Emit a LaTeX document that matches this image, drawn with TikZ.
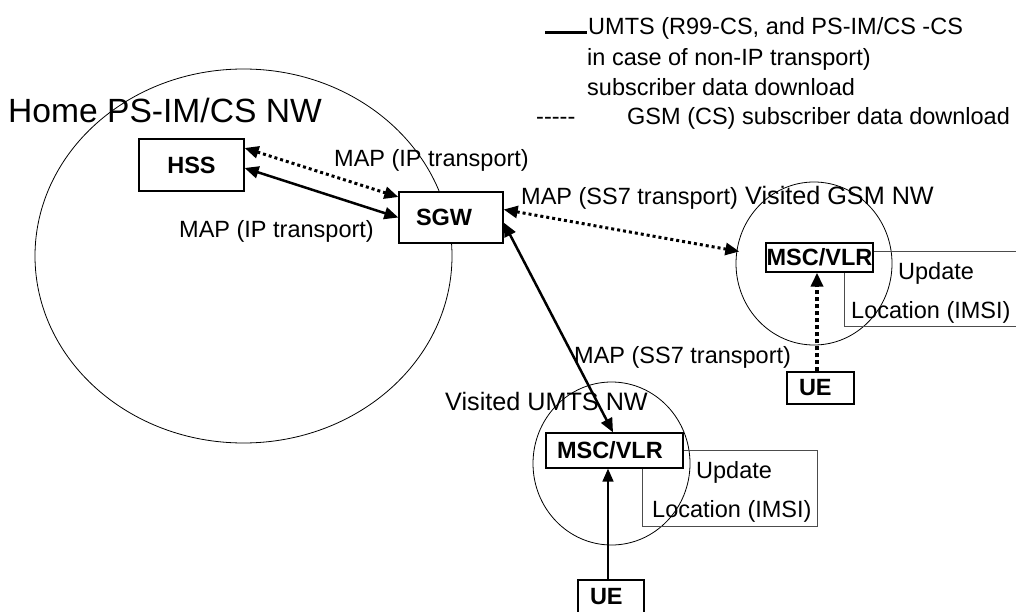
\documentclass[tikz,border=0pt]{standalone}
\usepackage{fontspec}
\setmainfont{Liberation Sans}
\usetikzlibrary{arrows.meta,shapes.geometric}
\begin{document}
\begin{tikzpicture}[x=1pt,y=-1pt,
  lbl/.style={anchor=base west, inner sep=0pt, font=\fontsize{23.5}{28}\selectfont},
  vislbl/.style={anchor=base west, inner sep=0pt, font=\fontsize{25.2}{30}\selectfont},
  biglbl/.style={anchor=base west, inner sep=0pt, font=\fontsize{33.6}{40}\selectfont},
  box/.style={draw, line width=1.3pt, fill=white, inner sep=0pt,
    font=\fontsize{23.5}{28}\selectfont\bfseries},
  net/.style={draw, ellipse, line width=0.8pt, inner sep=0pt},
  updbox/.style={draw=black!70, line width=1pt, inner sep=0pt},
  solidarr/.style={line width=2.5pt, {Triangle[length=14pt,width=12pt]}-{Triangle[length=14pt,width=12pt]}},
  dotarr/.style={line width=3pt, dash pattern=on 3pt off 3pt, {Triangle[length=14pt,width=12pt]}-{Triangle[length=14pt,width=12pt]}},
  dotone/.style={line width=3.5pt, dash pattern=on 4pt off 3pt, -{Triangle[length=14pt,width=12pt]}},
  thinone/.style={line width=1.6pt, -{Triangle[length=13pt,width=11pt]}}]
\useasboundingbox (0,0) rectangle (1016,612);
\fill[white] (0,0) rectangle (1016,612);
% networks
\node[net, minimum width=417pt, minimum height=374pt] (homenw) at (243.5,256) {};
\node[net, minimum width=156pt, minimum height=163pt] (gsmnw) at (814,263.5) {};
\node[net, minimum width=157pt, minimum height=163pt] (umtsnw) at (611.5,463.5) {};
% update location boxes
\node[updbox, minimum width=186pt, minimum height=75pt] (gupd) at (937,288.5) {};
\node[updbox, minimum width=175pt, minimum height=76pt] (uupd) at (729.5,488) {};
% labels
\node[biglbl] (homelbl) at (8,123) {Home PS-IM/CS NW};
\node[lbl] (mapip1) at (334,167) {MAP (IP transport)};
\node[lbl] (mapip2) at (179,237) {MAP (IP transport)};
\node[lbl] (mapss1) at (521,205) {MAP (SS7 transport)};
\node[vislbl] (visgsm) at (745,205) {Visited GSM NW};
\node[lbl] (mapss2) at (574,363) {MAP (SS7 transport)};
\node[vislbl] (visumts) at (445,410) {Visited UMTS NW};
\node[lbl] (gupdt) at (898,279) {Update};
\node[lbl] (gloct) at (851,318) {Location (IMSI)};
\node[lbl] (uupdt) at (696,478) {Update};
\node[lbl] (uloct) at (652,517) {Location (IMSI)};
% legend
\coordinate (lga) at (545,33);
\coordinate (lgb) at (587,33);
\draw[line width=3pt] (lga) -- (lgb);
\node[lbl] (leg1) at (588,35) {UMTS (R99-CS, and PS-IM/CS -CS};
\node[lbl] (leg2) at (587,66) {in case of non-IP transport)};
\node[lbl] (leg3) at (587,96) {subscriber data download};
\node[lbl] (leg4) at (536,125) {-{}-{}-{}-{}-};
\node[lbl] (leg5) at (627,125) {GSM (CS) subscriber data download};
% boxes
\node[box, minimum width=105pt, minimum height=52pt] (hss) at (191.5,165) {HSS};
\node[box, text width=70pt, inner xsep=17pt, minimum height=51pt, align=left] (sgw) at (451,217.5) {SGW};
\node[box, minimum width=107pt, minimum height=29pt] (gmsc) at (819.5,257.5) {MSC/VLR};
\node[box, text width=115pt, inner xsep=11pt, minimum height=35pt, align=left] (umsc) at (614.5,450.5) {MSC/VLR};
\node[box, text width=43pt, inner xsep=12pt, minimum height=32pt, align=left] (gue) at (820.5,388) {UE};
\node[box, text width=42pt, inner xsep=12pt, minimum height=34pt, align=left] (uue) at (611,597) {UE};
% connectors
\draw[dotarr] ([yshift=17pt]hss.east) -- ([yshift=20.5pt]sgw.west);
\draw[solidarr] ([yshift=-3pt]hss.east) -- (sgw.west);
\draw[dotarr] ([yshift=8pt]sgw.east) -- ([xshift=-26pt,yshift=6pt]gmsc.west);
\draw[solidarr] ([yshift=-5pt]sgw.east) -- ([xshift=-1.5pt]umsc.north);
\draw[dotone] ([xshift=-3.5pt]gue.north) -- ([xshift=-2.5pt]gmsc.south);
\draw[thinone] ([xshift=-3pt]uue.north) -- ([xshift=-6.5pt]umsc.south);
\end{tikzpicture}
\end{document}
